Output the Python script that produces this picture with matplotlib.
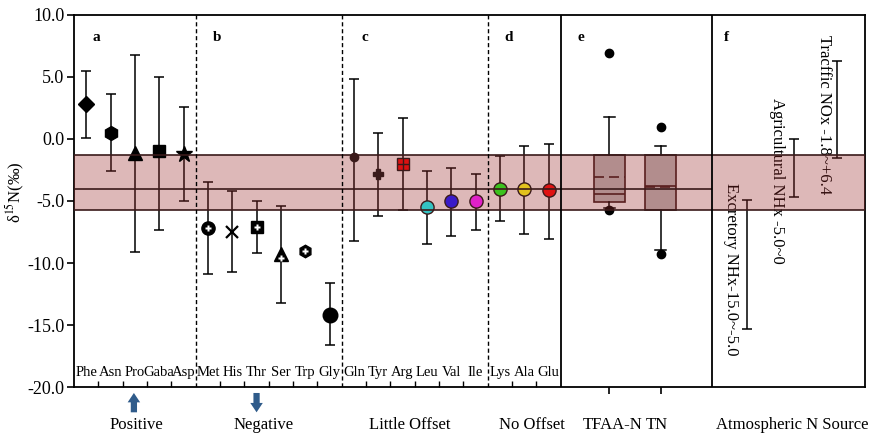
import matplotlib.pyplot as plt
import numpy as np

plt.rcParams['font.family'] = ['Liberation Serif', 'DejaVu Serif']
plt.rcParams['mathtext.fontset'] = 'stix'

# amino acids: mean and error-bar ends (per mil)
amino = ['Phe', 'Asn', 'Pro', 'Gaba', 'Asp', 'Met', 'His', 'Thr', 'Ser', 'Trp', 'Gly',
         'Gln', 'Tyr', 'Arg', 'Leu', 'Val', 'Ile', 'Lys', 'Ala', 'Glu']
mean = [2.8, 0.5, -1.1, -1.0, -1.2, -7.2, -7.5, -7.1, -9.3, -9.0, -14.2,
        -1.45, -2.8, -2.0, -5.5, -5.0, -5.0, -4.0, -4.0, -4.1]
upper = [5.5, 3.6, 6.8, 5.0, 2.6, -3.5, -4.2, -5.0, -5.4, np.nan, -11.6,
         4.8, 0.5, 1.7, -2.6, -2.3, -2.8, -1.4, -0.6, -0.4]
lower = [0.1, -2.6, -9.1, -7.3, -5.0, -10.9, -10.7, -9.2, -13.2, np.nan, -16.6,
         -8.2, -6.2, -5.7, -8.5, -7.8, -7.3, -6.6, -7.7, -8.1]

# box plots (panel e)
box_names = ['TFAA-N', 'TN']
box_q1 = [-5.1, -5.7]
box_q3 = [-1.3, -1.3]
box_med = [-4.4, -3.8]
box_mean = [-3.1, -3.9]
box_lo = [-5.6, -8.95]
box_hi = [1.8, -0.55]
box_out = [[6.9, -5.75], [1.0, -9.25]]

# atmospheric N sources (panel f)
src_names = ['Excretory NHx-15.0~-5.0', 'Agricultural NHx -5.0~0', 'Tracffic NOx -1.8~+6.4']
src_lo = [-15.3, -4.7, -1.5]
src_hi = [-4.9, 0.0, 6.3]

# TN range band
band_lo, band_mid, band_hi = -5.75, -4.0, -1.3

groups = ['Positive', 'Negative', 'Little Offset', 'No Offset', 'Atmospheric N Source']
panels = ['a', 'b', 'c', 'd', 'e', 'f']

# styles
dark = '#3a1a1a'
mk = ['D', 'h', '^', 's', '*', 'o', 'x', 's', '^', 'h', 'o',
      'o', 'P', 's', 'o', 'o', 'o', 'o', 'o', 'o']
ms = [8.5, 10, 10, 8.5, 12, 9.5, 9, 8.5, 10, 9, 10.5,
      6, 6.5, 9, 9.5, 9.5, 9.5, 9.5, 9.5, 9.5]
fc = ['k'] * 11 + [dark, dark, '#dd1111', '#33c3c3', '#3a1ac8', '#e020c8',
                   '#3cc21e', '#e2c21e', '#e01212']
plus_in = ['Met', 'Thr', 'Ser', 'Trp']

fig = plt.figure(figsize=(8.73, 4.33), dpi=100)
ax = fig.add_axes([0.0848, 0.1062, 0.906, 0.8592])

x = np.arange(len(amino)) + 0.5
for i, name in enumerate(amino):
    if not np.isnan(upper[i]):
        ax.errorbar(x[i], mean[i], yerr=[[mean[i] - lower[i]], [upper[i] - mean[i]]],
                    fmt='none', ecolor='k', elinewidth=1.1, capsize=3.4, capthick=1.1, zorder=2)
    ec = dark if i >= 11 else 'k'
    ax.plot(x[i], mean[i], marker=mk[i], ms=ms[i], mfc=fc[i], mec=ec,
            mew=1.6 if mk[i] == 'x' else 1.0, color='k', ls='none', zorder=4)
    if name in plus_in:
        ax.plot(x[i], mean[i] - (0.3 if mk[i] == '^' else 0), marker='P', ms=4.5,
                mfc='w', mec='none', ls='none', zorder=4.5)
    if name == 'Arg':
        ax.plot(x[i], mean[i], marker='+', ms=9, mec=dark, mew=1.0, ls='none', zorder=4.5)

# panel e box plots
bpos = [22.0, 24.1]
stats = []
for j in range(len(box_names)):
    stats.append({'med': box_med[j], 'q1': box_q1[j], 'q3': box_q3[j], 'mean': box_mean[j],
                  'whislo': box_lo[j], 'whishi': box_hi[j], 'fliers': box_out[j]})
ax.bxp(stats, positions=bpos, widths=1.27, patch_artist=True, showmeans=True, meanline=True,
       manage_ticks=False, capwidths=0.45, zorder=2,
       boxprops=dict(facecolor='#bfbfbf', edgecolor=dark, lw=1.2),
       medianprops=dict(color=dark, lw=1.2),
       meanprops=dict(color=dark, ls=(0, (6, 3)), lw=1.2),
       whiskerprops=dict(color='k', lw=1.1), capprops=dict(color='k', lw=1.1),
       flierprops=dict(marker='o', mfc='k', mec='k', ms=6))

# panel f source ranges
sx = [27.64, 29.57, 31.35]
tx = [26.98, 28.9, 30.8]
ttop = [-3.55, 3.3, 8.4]
for j in range(len(src_names)):
    mid = (src_lo[j] + src_hi[j]) / 2
    ax.errorbar(sx[j], mid, yerr=(src_hi[j] - src_lo[j]) / 2, fmt='none', ecolor='k',
                elinewidth=1.1, capsize=3.4, capthick=1.1, zorder=2)
    ax.text(tx[j], ttop[j], src_names[j], rotation=-90, ha='center', va='top', fontsize=12)

# band
ax.axhspan(band_lo, band_hi, color=(0.6, 0.16, 0.16), alpha=0.33, lw=0, zorder=3)
ax.axhline(band_lo, color=dark, lw=1.2, zorder=5)
ax.axhline(band_hi, color=dark, lw=1.2, zorder=5)
ax.hlines(band_mid, 0, 26.2, color=dark, lw=1.2, zorder=5)

for xv in [5, 11, 17]:
    ax.axvline(xv, color='k', ls=(0, (3, 2)), lw=1.0, zorder=6)
for xv in [20, 26.2]:
    ax.axvline(xv, color='k', lw=1.3, zorder=6)

for i, name in enumerate(amino):
    ax.text(x[i], -18.8, name, ha='center', va='center', fontsize=10.5)

for p, px in zip(panels, [0.74, 5.7, 11.8, 17.7, 20.7, 26.7]):
    ax.text(px, 8.2, p, fontsize=11, fontweight='bold', ha='left', va='center')

trans = ax.get_xaxis_transform()
for g, gx in zip(groups, [2.57, 7.8, 13.8, 18.8, 29.53]):
    ax.text(gx, -0.102, g, transform=trans, ha='center', va='center', fontsize=12)
for b, bx in zip(box_names, [22.13, 23.93]):
    ax.text(bx, -0.102, b, transform=trans, ha='center', va='center', fontsize=12)

arrow = dict(arrowstyle='simple,head_width=0.6,head_length=0.45,tail_width=0.3',
             color='#2f5b8a', mutation_scale=15, lw=0, shrinkA=0, shrinkB=0)
ax.annotate('', xy=(2.46, -0.016), xytext=(2.46, -0.068), xycoords=trans,
            arrowprops=arrow, annotation_clip=False)
ax.annotate('', xy=(7.5, -0.068), xytext=(7.5, -0.016), xycoords=trans,
            arrowprops=arrow, annotation_clip=False)

ax.set_xlim(0, 32.5)
ax.set_ylim(-20, 10)
yt = np.arange(-20, 11, 5)
ax.set_yticks(yt)
ax.set_yticklabels(['%.1f' % v for v in yt], fontsize=13)
ax.set_xticks(bpos)
ax.set_xticklabels([])
ax.set_xticks([v for v in range(1, 20) if v not in (5, 11, 17)], minor=True)
ax.tick_params(axis='y', direction='out', length=5, width=1.2, pad=2)
ax.tick_params(axis='x', which='major', direction='out', length=5, width=1.2)
ax.tick_params(axis='x', which='minor', direction='in', length=4, width=1.0)
for s in ax.spines.values():
    s.set_linewidth(1.3)

ax.set_ylabel(r'δ$^{15}$N(‰)', fontsize=12)
ax.yaxis.set_label_coords(-0.059, 0.524)

fig.savefig('out.png', dpi=100)
